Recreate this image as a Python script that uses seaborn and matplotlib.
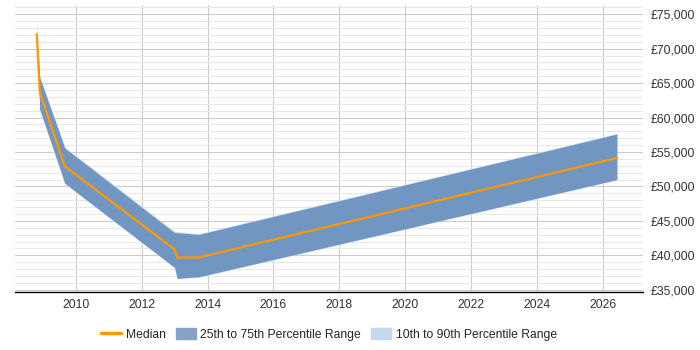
import matplotlib
matplotlib.use('Agg')
import matplotlib.pyplot as plt
import seaborn as sns
import pandas as pd
from matplotlib.ticker import MultipleLocator, FuncFormatter
from matplotlib.patches import Patch
from matplotlib.lines import Line2D

# values
years = [2008.82, 2008.91, 2009.67, 2013.0, 2013.08, 2013.74, 2026.42]
median = [72100, 63700, 52930, 40870, 39660, 39710, 54130]
p25 = [72000, 61200, 50480, 38260, 36670, 36900, 51010]
p75 = [72200, 65800, 55570, 43280, 43280, 43040, 57600]
p10 = [72000, 61100, 50400, 38200, 36600, 36850, 50950]
p90 = [74000, 66000, 55700, 43500, 43450, 43150, 57700]

df = pd.DataFrame({'year': years, 'median': median})

sns.set_style('white')
plt.rcParams['font.family'] = ['Liberation Sans', 'DejaVu Sans']

fig = plt.figure(figsize=(7, 3.5), dpi=100)
ax = fig.add_axes([0.021, 0.165, 0.897, 0.82])

light = '#c6d9ef'
band = '#7196c1'
orange = '#ff9900'

ax.fill_between(years, p10, p90, color=light, lw=0, zorder=2)
ax.fill_between(years, p25, p75, color=band, lw=0, zorder=3)
sns.lineplot(data=df, x='year', y='median', color=orange, lw=1.6, ax=ax, zorder=4)

ax.set_xlim(2008.15, 2027.2)
ax.set_ylim(34650, 76300)
ax.xaxis.set_major_locator(MultipleLocator(2))
ax.yaxis.set_major_locator(MultipleLocator(5000))
ax.yaxis.set_minor_locator(MultipleLocator(1000))
ax.yaxis.set_major_formatter(FuncFormatter(lambda v, p: f'£{v:,.0f}'))
ax.yaxis.tick_right()
ax.tick_params(axis='both', which='both', length=0, labelsize=8.7, colors='#333333')
ax.tick_params(axis='y', pad=6)
ax.tick_params(axis='x', pad=5)
ax.grid(axis='y', which='major', color='#cccccc', lw=0.8, zorder=0)
ax.grid(axis='y', which='minor', color='#e8e8e8', lw=0.8, zorder=0)
ax.grid(axis='x', which='major', color='#cccccc', lw=0.8, zorder=0)
ax.set_axisbelow(True)
ax.set_xlabel('')
ax.set_ylabel('')
for s in ['left', 'right', 'top']:
    ax.spines[s].set_visible(False)
ax.spines['bottom'].set_color('#000000')
ax.spines['bottom'].set_linewidth(1)

handles = [Line2D([], [], color=orange, lw=2.5),
           Patch(color='#86a2c4'),
           Patch(color=light)]
labels = ['Median', '25th to 75th Percentile Range', '10th to 90th Percentile Range']
fig.legend(handles, labels, loc='center', bbox_to_anchor=(0.47, 0.045), ncol=3,
           frameon=False, fontsize=8.7, handlelength=1.65, handleheight=1.0,
           columnspacing=0.8, handletextpad=0.4)

fig.savefig('out.png', dpi=100)
